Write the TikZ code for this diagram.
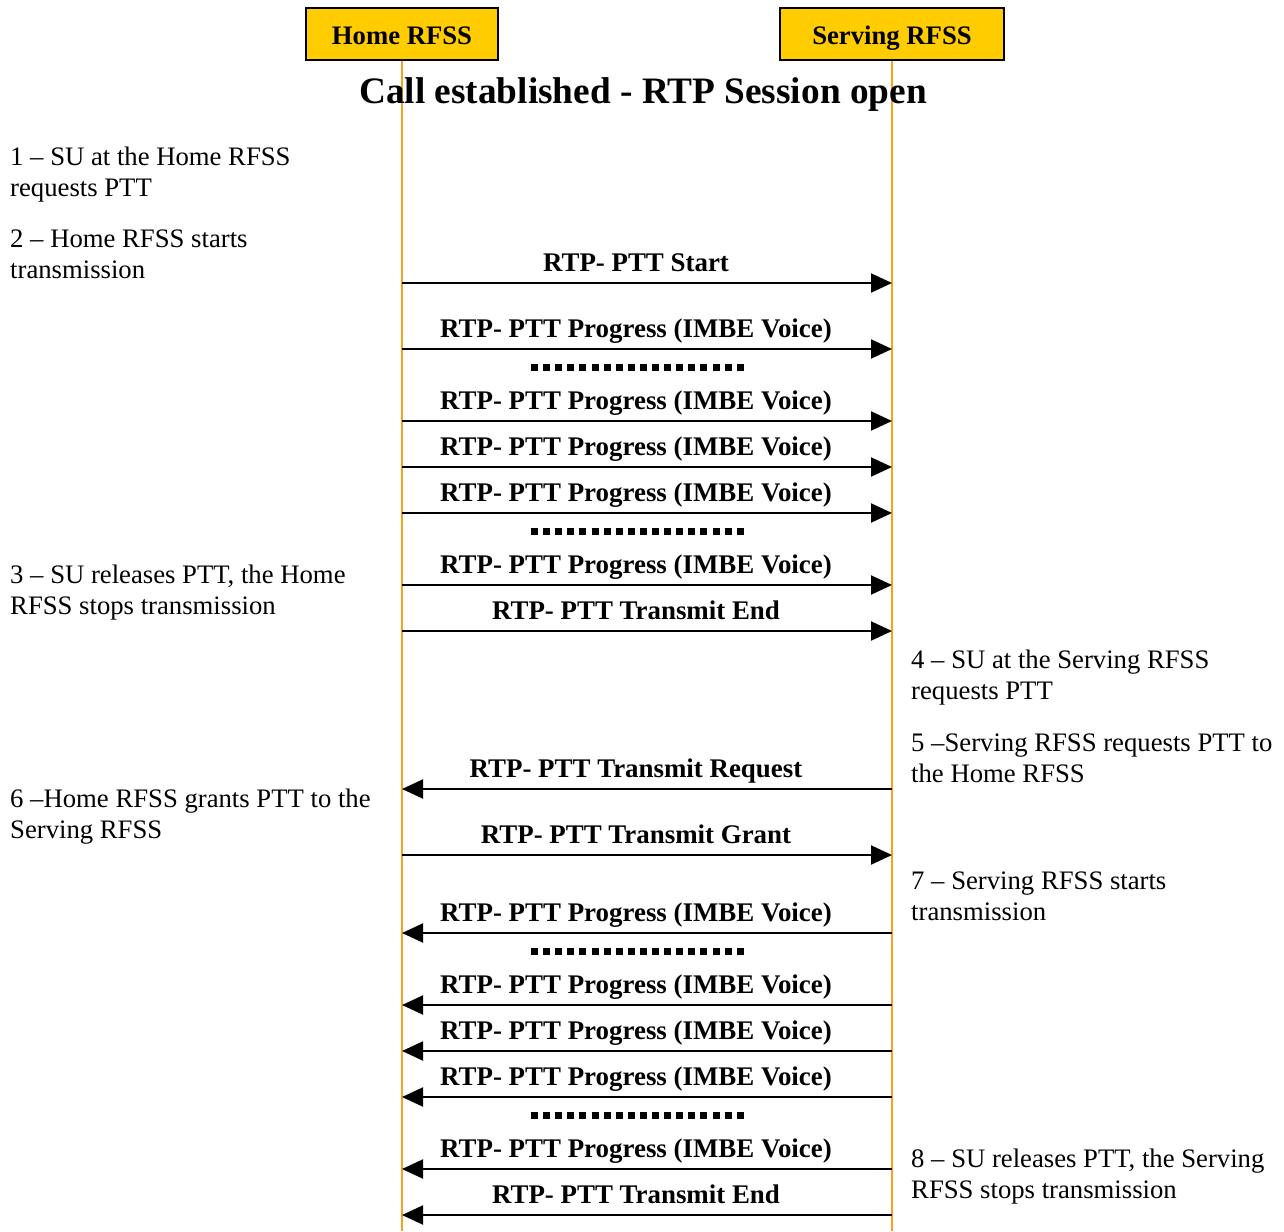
\documentclass[tikz,border=0pt]{standalone}
\usepackage{fontspec}
\setmainfont{Liberation Serif}
\usetikzlibrary{arrows.meta}
\definecolor{lifeorange}{RGB}{247,163,30}
\definecolor{boxgold}{RGB}{255,204,0}
\begin{document}
\begin{tikzpicture}[x=1pt,y=-1pt,
  entity/.style={draw=black, line width=1.5pt, fill=boxgold, minimum height=52pt,
    text height=24pt, text depth=2pt,
    font=\fontsize{26.7}{31}\selectfont\bfseries, inner sep=0pt},
  lifeline/.style={draw=lifeorange, line width=2pt},
  msg/.style={line width=2pt, -{Triangle[length=21pt,width=19pt]}},
  msglabel/.style={anchor=base, inner sep=0pt, font=\fontsize{26.9}{31}\selectfont\bfseries},
  note/.style={anchor=base west, inner sep=0pt, font=\fontsize{26.7}{31}\selectfont},
  dotline/.style={line width=7pt, dash pattern=on 7pt off 5.1pt}
]
\useasboundingbox (0,0) rectangle (1284,1231);

% entities
\node[entity, minimum width=192pt] (home) at (402,34) {Home RFSS};
\node[entity, minimum width=224pt] (serv) at (892,34) {Serving RFSS};

% lifelines
\coordinate (homeend) at (402,1231);
\coordinate (servend) at (892,1231);
\draw[lifeline] (home.south) -- (homeend);
\draw[lifeline] (serv.south) -- (servend);

% title
\node[anchor=base, inner sep=0pt, font=\fontsize{37.3}{42}\selectfont\bfseries] (title) at (643,103.5) {Call established - RTP Session open};

% messages home -> serving
\foreach \y/\t [count=\i] in {283/{RTP- PTT Start},
    349/{RTP- PTT Progress (IMBE Voice)},
    421/{RTP- PTT Progress (IMBE Voice)},
    467/{RTP- PTT Progress (IMBE Voice)},
    513/{RTP- PTT Progress (IMBE Voice)},
    585/{RTP- PTT Progress (IMBE Voice)},
    631/{RTP- PTT Transmit End},
    855/{RTP- PTT Transmit Grant}} {
  \coordinate (rh\i) at (402,\y);
  \coordinate (rs\i) at (892,\y);
  \draw[msg] (rh\i) -- (rs\i);
  \node[msglabel] (rlab\i) at (636,\y-11.5) {\t};
}

% messages serving -> home
\foreach \y/\t [count=\i] in {789/{RTP- PTT Transmit Request},
    933/{RTP- PTT Progress (IMBE Voice)},
    1005/{RTP- PTT Progress (IMBE Voice)},
    1051/{RTP- PTT Progress (IMBE Voice)},
    1097/{RTP- PTT Progress (IMBE Voice)},
    1169/{RTP- PTT Progress (IMBE Voice)},
    1215/{RTP- PTT Transmit End}} {
  \coordinate (lh\i) at (402,\y);
  \coordinate (ls\i) at (892,\y);
  \draw[msg] (ls\i) -- (lh\i);
  \node[msglabel] (llab\i) at (636,\y-11.5) {\t};
}

% dotted continuation marks
\foreach \y [count=\i] in {367,531.5,951,1115} {
  \coordinate (da\i) at (531,\y);
  \coordinate (db\i) at (745,\y);
  \draw[dotline] (da\i) -- (db\i);
}

% notes left
\node[note] (n1a) at (10,165) {1 – SU at the Home RFSS};
\node[note] (n1b) at (10,196) {requests PTT};
\node[note] (n2a) at (10,247) {2 – Home RFSS starts};
\node[note] (n2b) at (10,278) {transmission};
\node[note] (n3a) at (10,583) {3 – SU releases PTT, the Home};
\node[note] (n3b) at (10,614) {RFSS stops transmission};
\node[note] (n6a) at (10,807.5) {6 –Home RFSS grants PTT to the};
\node[note] (n6b) at (10,838.5) {Serving RFSS};

% notes right
\node[note] (n4a) at (911,668.5) {4 – SU at the Serving RFSS};
\node[note] (n4b) at (911,699.5) {requests PTT};
\node[note] (n5a) at (911,751) {5 –Serving RFSS requests PTT to};
\node[note] (n5b) at (911,782) {the Home RFSS};
\node[note] (n7a) at (911,889) {7 – Serving RFSS starts};
\node[note] (n7b) at (911,920) {transmission};
\node[note] (n8a) at (911,1167) {8 – SU releases PTT, the Serving};
\node[note] (n8b) at (911,1198) {RFSS stops transmission};
\end{tikzpicture}
\end{document}
